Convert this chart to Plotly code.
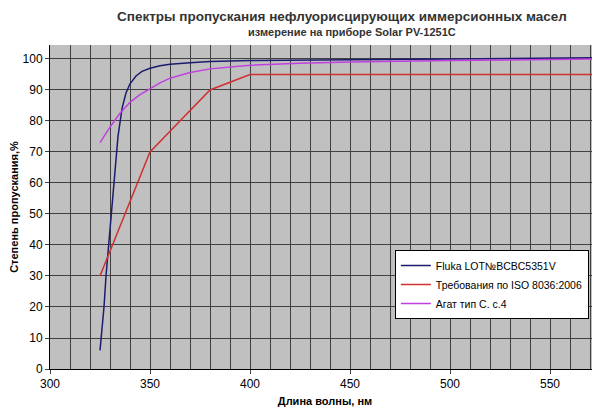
import plotly.graph_objects as go

fluka_x = [325, 326, 327, 328, 330, 332, 334, 336, 338, 340, 343, 346, 350, 355, 360, 370, 380, 400, 450, 500, 550, 577]
fluka_y = [6, 12, 20, 30, 45, 62, 75, 84, 89, 92, 94.5, 96, 97, 97.8, 98.3, 98.8, 99.2, 99.5, 99.8, 100.1, 100.3, 100.4]
iso_x = [325, 350, 380, 400, 577]
iso_y = [30, 70, 90, 95, 95]
agat_x = [325, 330, 335, 340, 345, 350, 355, 360, 370, 380, 390, 400, 425, 450, 500, 550, 577]
agat_y = [73, 78, 82.5, 86, 88.5, 90.5, 92.3, 93.8, 95.6, 96.8, 97.5, 98, 98.6, 99, 99.5, 99.8, 100]

fig = go.Figure()
fig.add_trace(go.Scatter(x=fluka_x, y=fluka_y, mode='lines', name='Fluka LOT№BCBC5351V',
                         line=dict(color='#1c1c6e', width=1.5)))
fig.add_trace(go.Scatter(x=iso_x, y=iso_y, mode='lines', name='Требования по ISO 8036:2006',
                         line=dict(color='#d03030', width=1.5)))
fig.add_trace(go.Scatter(x=agat_x, y=agat_y, mode='lines', name='Агат тип С. с.4',
                         line=dict(color='#c040e0', width=1.5)))

fig.update_layout(
    width=592, height=407,
    margin=dict(l=42, r=0, t=37, b=46),
    paper_bgcolor='white', plot_bgcolor='#c0c0c0',
    font=dict(family='Liberation Sans, Arial', size=11, color='black'),
    annotations=[
        dict(text='<b>Спектры пропускания нефлуорисцирующих иммерсионных масел</b>',
             xref='paper', yref='paper', x=0.118, y=1.117, xanchor='left', yanchor='top',
             showarrow=False, font=dict(size=13.5, color='#333')),
        dict(text='<b>измерение на приборе Solar PV-1251C</b>', xref='paper', yref='paper',
             x=0.549, y=1.04, yanchor='middle', xanchor='center', showarrow=False,
             font=dict(size=11, color='#333')),
    ],
    legend=dict(x=0.627, y=0.367, xanchor='left', yanchor='top', bgcolor='white',
                bordercolor='black', borderwidth=1, font=dict(size=10.5)),
    xaxis=dict(range=[300, 575], tickvals=[300, 350, 400, 450, 500, 550],
               showgrid=True, gridcolor='#404040', gridwidth=1,
               minor=dict(dtick=10, showgrid=True, gridcolor='#404040'),
               ticks='outside', ticklen=4, zeroline=False, showline=True, linecolor='black',
               automargin=False, tickfont=dict(size=12),
               title=dict(text='<b>Длина волны, нм</b>', font=dict(size=11), standoff=6)),
    yaxis=dict(range=[0, 104.5], dtick=10, showgrid=True, gridcolor='#404040', gridwidth=1,
               ticks='outside', ticklen=4, zeroline=False, showline=True, linecolor='black',
               automargin=False, tickfont=dict(size=12),
               title=dict(text='<b>Степень пропускания,%</b>', font=dict(size=11), standoff=4)),
)
fig.write_html("out.html")
